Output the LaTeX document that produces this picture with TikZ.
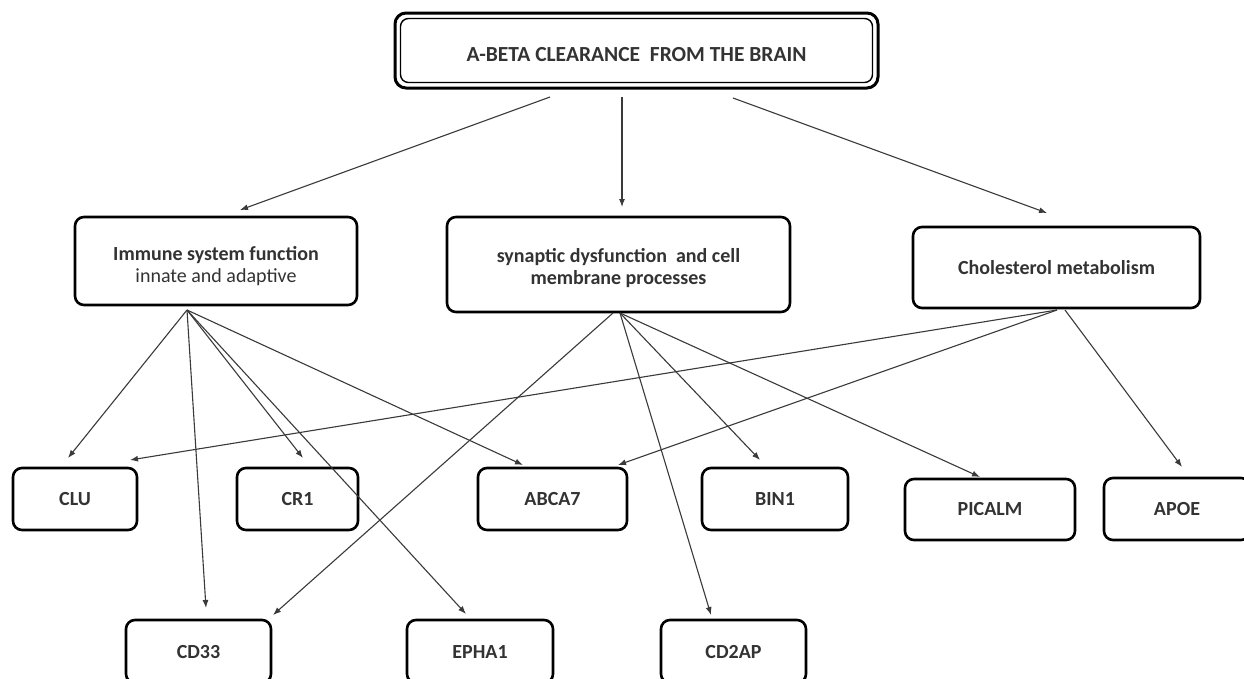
\documentclass[tikz,border=0pt]{standalone}
\usepackage{fontspec}
\setmainfont{Carlito}
\usetikzlibrary{arrows.meta}
\definecolor{txt}{HTML}{333333}
\definecolor{ln}{HTML}{3A3A3A}
\tikzset{
  box/.style={draw=black, line width=2.6pt, rounded corners=9pt, fill=white,
    align=center, text=txt, inner sep=0pt, font=\fontsize{20}{23}\selectfont\bfseries},
  gene/.style={box, minimum height=62pt, font=\fontsize{20}{23}\selectfont\bfseries},
  lbl/.style={align=center, text=txt, inner sep=0pt, font=\fontsize{20}{22}\selectfont\bfseries},
  conn/.style={draw=ln, line width=1.1pt, -{Latex[length=8pt,width=6pt]}},
}
\begin{document}
\begin{tikzpicture}[x=1pt,y=-1pt]
\useasboundingbox (0,0) rectangle (1244,678);
\clip (0,0) rectangle (1244,678);
\fill[white] (0,0) rectangle (1244,678);

% top box
\node[box, line width=3pt, rounded corners=11pt, minimum width=483pt, minimum height=75pt] (top) at (636.5,50.5) {};
\node[lbl, font=\fontsize{21.5}{24}\selectfont\bfseries] (toptxt) at (636.5,55) {A-BETA CLEARANCE\ \ FROM THE BRAIN};
\draw[black, line width=1.4pt, rounded corners=8pt]
  ([xshift=7pt,yshift=-7pt]top.north west) rectangle ([xshift=-7pt,yshift=7pt]top.south east);

% middle boxes
\node[box, minimum width=282pt, minimum height=88pt] (imm) at (216,261) {};
\node[lbl] (immtxt) at (216,266)
  {Immune system\ function\\{\mdseries innate and adaptive}};
\node[box, minimum width=343pt, minimum height=95pt] (syn) at (618.5,264.5) {};
\node[lbl] (syntxt) at (618.5,268)
  {synaptic dysfunction\ \ and cell\\membrane processes};
\node[box, minimum width=287pt, minimum height=81pt] (cho) at (1056.5,267.5)
  {Cholesterol metabolism};

% gene boxes
\node[gene, minimum width=124pt] (clu) at (75,499) {CLU};
\node[gene, minimum width=121pt] (cr1) at (297.5,499) {CR1};
\node[gene, minimum width=149pt] (abca7) at (552.5,499) {ABCA7};
\node[gene, minimum width=146pt] (bin1) at (775,499) {BIN1};
\node[gene, minimum width=170pt, minimum height=61pt] (picalm) at (990,509.5) {PICALM};
\node[gene, minimum width=146pt] (apoe) at (1177,509) {APOE};
\node[gene, minimum width=145pt, minimum height=63pt] (cd33) at (198.5,651.5) {CD33};
\node[gene, minimum width=146pt, minimum height=63pt] (epha1) at (480,651.5) {EPHA1};
\node[gene, minimum width=145pt, minimum height=63pt] (cd2ap) at (733.5,651.5) {CD2AP};

% connector end points
\coordinate (t1) at (550,97);
\coordinate (t2) at (622,97);
\coordinate (t3) at (733,98);
\coordinate (immin) at (240,210);
\coordinate (synin) at (622,207);
\coordinate (choin) at (1047,213);

\coordinate (imo) at (187,310);
\coordinate (syo) at (613,313);
\coordinate (syo2) at (620,313);
\coordinate (cho1) at (1057,310);
\coordinate (cho2) at (1065,310);

\coordinate (cluA) at (68,458);
\coordinate (cluB) at (130,460);
\coordinate (cr1A) at (303,458);
\coordinate (abcaA) at (523,465);
\coordinate (abcaB) at (618,465);
\coordinate (binA) at (760,460);
\coordinate (picA) at (980,477);
\coordinate (apoA) at (1182,467);
\coordinate (cd33A) at (206,608);
\coordinate (cd33B) at (273,615);
\coordinate (ephA) at (466,614);
\coordinate (cd2A) at (711,615);

% connectors
\draw[conn] (t1) -- (immin);
\draw[conn] (t2) -- (synin);
\draw[conn] (t3) -- (choin);

\draw[conn] (imo) -- (cluA);
\draw[conn] (imo) -- (cd33A);
\draw[conn] (imo) -- (cr1A);
\draw[conn] (imo) -- (ephA);
\draw[conn] (imo) -- (abcaA);

\draw[conn] (syo) -- (cd33B);
\draw[conn] (syo2) -- (cd2A);
\draw[conn] (syo2) -- (binA);
\draw[conn] (syo2) -- (picA);

\draw[conn] (cho1) -- (cluB);
\draw[conn] (cho1) -- (abcaB);
\draw[conn] (cho2) -- (apoA);
\end{tikzpicture}
\end{document}
